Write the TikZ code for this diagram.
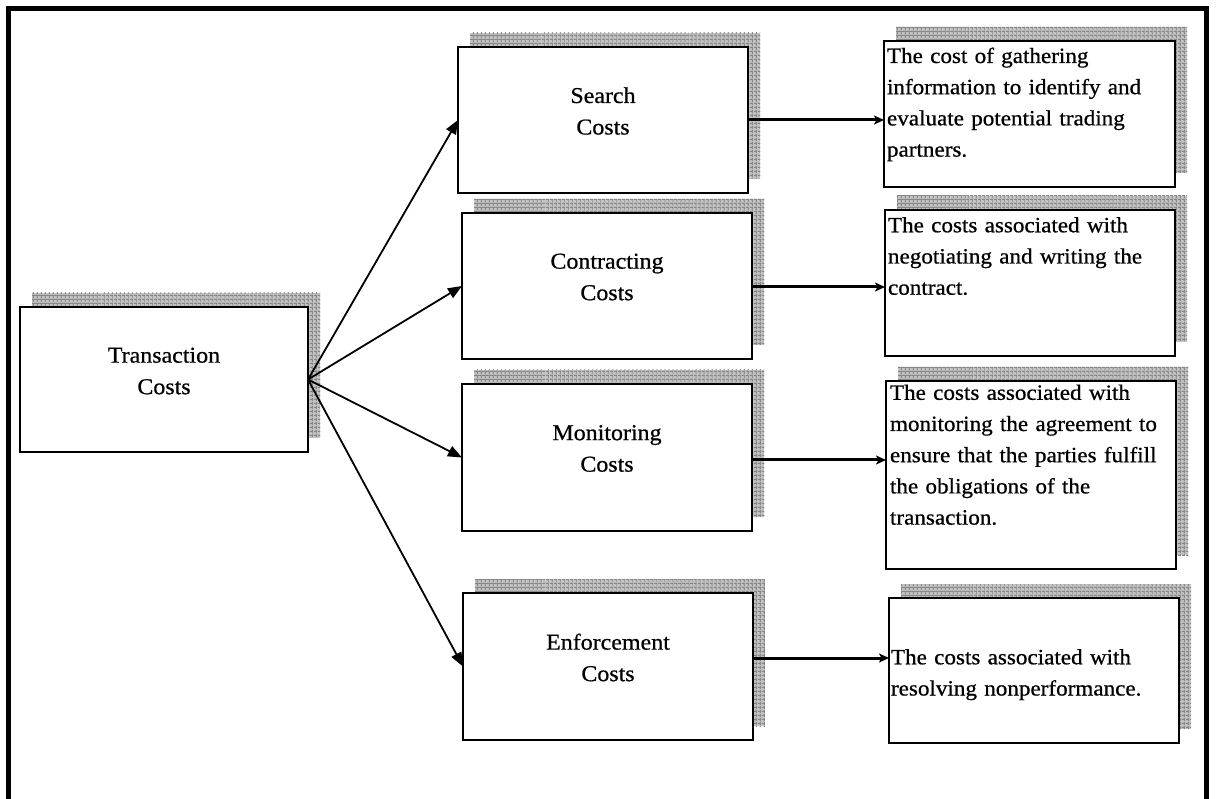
\documentclass[tikz,border=0pt]{standalone}
\usepackage{fontspec}
\setmainfont{Liberation Serif}
\newfontfamily\widefont[FakeStretch=1.06,FakeBold=0.7]{Liberation Serif}
\usetikzlibrary{arrows.meta,patterns.meta,backgrounds}

\begin{document}
\begin{tikzpicture}[x=1pt,y=-1pt,
  every node/.style={inner sep=0pt, outer sep=0pt},
  card/.style={draw=black, line width=1.9pt, fill=white},
  shadowfill/.style={fill=black!24,
    postaction={pattern={Lines[angle=0,distance=4pt,line width=1pt]}, pattern color=black!48},
    postaction={pattern={Lines[angle=90,distance=4pt,line width=1pt]}, pattern color=black!48}},
  lbl/.style={font=\widefont\fontsize{22.6}{31.5}\selectfont, align=center},
  desc/.style={font=\widefont\fontsize{21.8}{31.2}\selectfont, text width=300pt, align=left, anchor=base west},
  diag/.style={line width=1.8pt, -{Triangle[length=14pt,width=11pt]}},
  horiz/.style={line width=3pt, -{Stealth[length=10pt,width=9pt,inset=2.5pt]}}
]
\useasboundingbox (0,0) rectangle (1216,799);
\clip (0,0) rectangle (1216,799);

% outer frame (runs past the lower edge)
\draw[line width=5pt] (8.5,830) -- (8.5,8.5) -- (1206.5,8.5) -- (1206.5,830);

% cost categories
\node[card, minimum width=288pt, minimum height=145pt] (trans) at (164,379.5) {};
\node[card, minimum width=290pt, minimum height=146pt] (search) at (603,120) {};
\node[card, minimum width=290pt, minimum height=146pt] (contr) at (607,286) {};
\node[card, minimum width=290pt, minimum height=147pt] (monit) at (607,457.5) {};
\node[card, minimum width=290pt, minimum height=147pt] (enf) at (608,666.5) {};

% descriptions
\node[card, minimum width=291pt, minimum height=146pt] (d1) at (1029.5,114) {};
\node[card, minimum width=290pt, minimum height=146pt] (d2) at (1030,283) {};
\node[card, minimum width=290pt, minimum height=188pt] (d3) at (1031,475) {};
\node[card, minimum width=290pt, minimum height=145pt] (d4) at (1034,670.5) {};

% hatched drop shadows behind every box
\begin{scope}[on background layer]
  \foreach \n in {trans,search,contr,monit,enf,d1,d2,d3,d4}
    \path[shadowfill] ([shift={(12,-14)}]\n.south west) rectangle ([shift={(12,-14)}]\n.north east);
\end{scope}

% box labels
\node[lbl] (transtxt) at ([yshift=8.5pt]trans.center) {Transaction\\Costs};
\node[lbl] (searchtxt) at ([yshift=9pt]search.center) {Search\\Costs};
\node[lbl] (contrtxt) at ([yshift=9pt]contr.center) {Contracting\\Costs};
\node[lbl] (monittxt) at ([yshift=9pt]monit.center) {Monitoring\\Costs};
\node[lbl] (enftxt) at ([yshift=9pt]enf.center) {Enforcement\\Costs};

\node[desc] (d1txt) at ([shift={(3,22)}]d1.north west)
  {The cost of gathering\\information to identify and\\evaluate potential trading\\partners.};
\node[desc] (d2txt) at ([shift={(3,22.3)}]d2.north west)
  {The costs associated with\\negotiating and writing the\\contract.};
\node[desc] (d3txt) at ([shift={(4,18.8)}]d3.north west)
  {The costs associated with\\monitoring the agreement to\\ensure that the parties fulfill\\the obligations of the\\transaction.};
\node[desc] (d4txt) at ([shift={(2,66.3)}]d4.north west)
  {The costs associated with\\resolving nonperformance.};

% connectors
\draw[diag] (trans.east) -- (search.west);
\draw[diag] (trans.east) -- (contr.west);
\draw[diag] (trans.east) -- (monit.west);
\draw[diag] (trans.east) -- (enf.west);

\draw[horiz] (search.east) -- (search.east -| d1.west);
\draw[horiz] ([yshift=-1pt]contr.east) -- ([yshift=-1pt]contr.east -| d2.west);
\draw[horiz] ([yshift=-2.5pt]monit.east) -- ([yshift=-2.5pt]monit.east -| d3.west);
\draw[horiz] ([yshift=8.5pt]enf.east) -- ([yshift=8.5pt]enf.east -| d4.west);
\end{tikzpicture}
\end{document}
